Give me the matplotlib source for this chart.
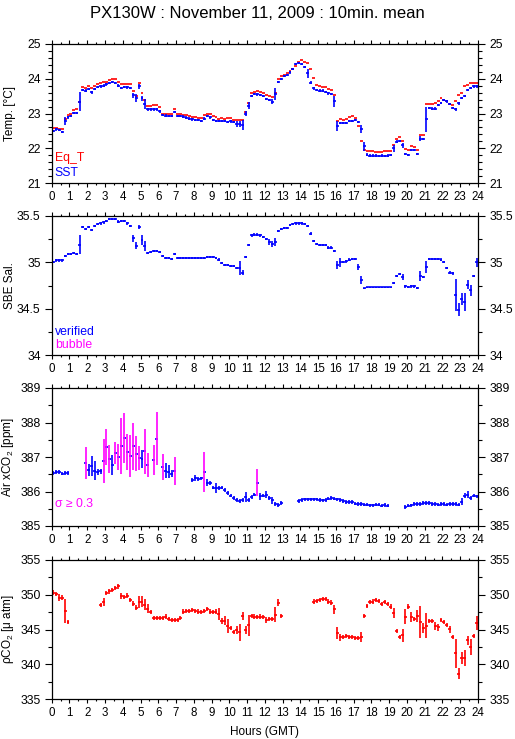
import numpy as np
import matplotlib
matplotlib.use("Agg")
import matplotlib.pyplot as plt
from matplotlib.ticker import MultipleLocator

plt.rcParams['font.family'] = ['Liberation Sans', 'DejaVu Sans']
plt.rcParams['mathtext.fontset'] = 'custom'
plt.rcParams['mathtext.rm'] = 'Liberation Sans'
plt.rcParams['mathtext.it'] = 'Liberation Sans:italic'

nan = np.nan
title = "PX130W : November 11, 2009 : 10min. mean"
hour_ticks = list(range(0, 25))

# ---- 10-minute means (index i covers hours i/6 .. (i+1)/6) ----
eq_t = [22.59, 22.57, 22.55, 22.54, 22.83, 22.95, 23.0, 23.1, 23.12, 23.34,
        23.75, 23.72, 23.78, 23.73, 23.8, 23.85, 23.87, 23.9, 23.92, 23.95,
        23.99, 23.99, 23.9, 23.85, 23.85, 23.85, 23.85, 23.65, 23.49, 23.87,
        23.58, 23.39, 23.22, 23.22, 23.24, 23.24, 23.18, 23.0, 23.0, 23.0,
        23.0, 23.12, 23.0, 23.0, 22.97, 22.97, 22.94, 22.91, 22.91, 22.87,
        22.87, 22.95, 23.0, 23.0, 22.93, 22.89, 22.85, 22.86, 22.85, 22.86,
        22.86, 22.81, 22.81, 22.81, 22.81, 23.05, 23.29, 23.58, 23.63, 23.66,
        23.62, 23.6, 23.53, 23.51, 23.47, 23.58, 23.99, 24.07, 24.11, 24.16,
        24.21, 24.28, 24.38, 24.48, 24.53, 24.49, 24.45, 24.28, 24.01, 23.81,
        23.78, 23.75, 23.75, 23.7, 23.68, 23.52, 22.78, 22.83, 22.81, 22.85,
        22.89, 22.92, 22.86, 22.65, 22.2, 21.94, 21.91, 21.91, 21.91, 21.9,
        21.88, 21.89, 21.91, 21.91, 21.91, 22.09, 22.28, 22.31, 22.22, 21.97,
        21.94, 22.06, 22.05, 21.94, 22.37, 22.37, 23.27, 23.26, 23.27, 23.31,
        23.37, 23.45, 23.39, 23.37, 23.27, 23.24, 23.37, 23.53, 23.58, 23.78,
        23.83, 23.87, 23.87, 23.87]

sst = [22.5, 22.54, 22.52, 22.46, 22.79, 22.89, 22.93, 23.02, 23.02, 23.34,
       23.68, 23.66, 23.7, 23.61, 23.7, 23.76, 23.78, 23.8, 23.84, 23.87,
       23.9, 23.87, 23.8, 23.73, 23.76, 23.75, 23.73, 23.52, 23.44, 23.78,
       23.44, 23.27, 23.12, 23.12, 23.12, 23.12, 23.06, 22.95, 22.94, 22.93,
       22.93, 23.04, 22.93, 22.92, 22.91, 22.88, 22.85, 22.83, 22.81, 22.81,
       22.79, 22.85, 22.93, 22.89, 22.81, 22.79, 22.79, 22.79, 22.79, 22.76,
       22.77, 22.75, 22.69, 22.69, 22.67, 22.99, 23.22, 23.51, 23.56, 23.55,
       23.53, 23.51, 23.42, 23.39, 23.34, 23.56, 23.9, 23.99, 24.08, 24.1,
       24.18, 24.28, 24.42, 24.45, 24.43, 24.33, 24.16, 23.89, 23.72, 23.68,
       23.66, 23.66, 23.62, 23.58, 23.56, 23.35, 22.64, 22.73, 22.72, 22.73,
       22.79, 22.79, 22.81, 22.75, 22.55, 22.06, 21.82, 21.79, 21.79, 21.79,
       21.77, 21.79, 21.77, 21.79, 21.81, 22.0, 22.19, 22.21, 22.08, 21.83,
       21.81, 21.95, 21.95, 21.83, 22.28, 22.27, 22.83, 23.16, 23.14, 23.14,
       23.24, 23.31, 23.39, 23.35, 23.27, 23.16, 23.12, 23.29, 23.45, 23.51,
       23.68, 23.74, 23.78, 23.78]
sst_sd_default = 0.035
sst_sd = {4: 0.11, 9: 0.27, 27: 0.08, 28: 0.11, 29: 0.08, 30: 0.07, 31: 0.14,
          62: 0.08, 63: 0.08, 64: 0.14, 65: 0.07, 66: 0.1, 74: 0.07, 75: 0.17,
          86: 0.13, 95: 0.15, 96: 0.15, 104: 0.12, 105: 0.13, 115: 0.1,
          118: 0.08, 124: 0.06, 126: 0.35}

sal = [35.0, 35.02, 35.02, 35.02, 35.07, 35.09, 35.09, 35.1, 35.09, 35.19,
       35.38, 35.36, 35.38, 35.35, 35.39, 35.41, 35.42, 35.43, 35.45, 35.47,
       35.47, 35.47, 35.44, 35.45, 35.45, 35.42, 35.39, 35.26, 35.18, 35.38,
       35.24, 35.18, 35.1, 35.11, 35.12, 35.12, 35.11, 35.07, 35.05, 35.05,
       35.04, 35.09, 35.05, 35.05, 35.05, 35.05, 35.05, 35.05, 35.05, 35.05,
       35.05, 35.05, 35.06, 35.06, 35.06, 35.05, 35.03, 34.99, 34.97, 34.97,
       34.96, 34.96, 34.94, 34.94, 34.89, 35.06, 35.19, 35.29, 35.3, 35.3,
       35.29, 35.27, 35.25, 35.22, 35.2, 35.22, 35.34, 35.36, 35.37, 35.37,
       35.4, 35.41, 35.42, 35.42, 35.42, 35.41, 35.39, 35.31, 35.23, 35.2,
       35.19, 35.19, 35.19, 35.16, 35.16, 35.12, 34.97, 35.0, 35.0, 35.01,
       35.03, 35.04, 35.04, 34.95, 34.81, 34.72, 34.73, 34.73, 34.73, 34.73,
       34.73, 34.73, 34.73, 34.73, 34.73, 34.78, 34.85, 34.87, 34.84, 34.74,
       34.73, 34.74, 34.74, 34.72, 34.85, 34.84, 34.95, 35.04, 35.04, 35.04,
       35.04, 35.03, 35.0, 34.94, 34.89, 34.88, 34.65, 34.49, 34.6, 34.57,
       34.76, 34.7, 34.85, 35.0]
sal_sd_default = 0.012
sal_sd = {9: 0.1, 27: 0.04, 28: 0.035, 29: 0.025, 30: 0.05, 31: 0.055,
          63: 0.075, 64: 0.03, 73: 0.03, 74: 0.035, 75: 0.045, 96: 0.04,
          97: 0.045, 103: 0.035, 104: 0.045, 105: 0.004, 106: 0.004,
          107: 0.004, 108: 0.004, 109: 0.004, 110: 0.004, 111: 0.004,
          112: 0.004, 113: 0.004, 114: 0.004, 118: 0.03, 124: 0.055,
          126: 0.06, 136: 0.17, 137: 0.07, 138: 0.065, 139: 0.095,
          140: 0.045, 141: 0.06, 143: 0.045}

xco2 = [386.54, 386.56, 386.57, 386.52, 386.54, 386.54, nan, nan, nan, nan,
        nan, 386.83, 386.63, 386.75, 386.6, 386.56, 386.58, 386.89, 387.29, 386.94,
        386.77, 387.12, 387.0, 387.32, 387.55, 387.15, 387.04, 387.31, 387.09, 386.97,
        386.94, 387.16, 386.77, nan, 386.92, 387.53, nan, 386.71, 386.6, 386.57,
        386.51, 386.6, nan, nan, nan, nan, nan, 386.34, 386.39, 386.37,
        386.38, 386.57, 386.25, 386.25, 386.11, 386.11, 386.1, 386.11, 386.05, 385.96,
        385.88, 385.81, 385.76, 385.73, 385.76, 385.84, 385.76, 385.84, 385.91, 386.25,
        385.86, 385.88, 385.91, 385.81, 385.74, 385.64, 385.61, 385.67, nan, nan,
        nan, nan, nan, 385.73, 385.76, 385.77, 385.77, 385.77, 385.77, 385.77,
        385.75, 385.74, 385.76, 385.79, 385.81, 385.79, 385.77, 385.76, 385.73, 385.69,
        385.69, 385.69, 385.65, 385.64, 385.64, 385.62, 385.62, 385.6, 385.6, 385.62,
        385.62, 385.59, 385.61, 385.59, nan, nan, nan, nan, nan, 385.55,
        385.59, 385.6, 385.64, 385.64, 385.64, 385.67, 385.67, 385.67, 385.64, 385.64,
        385.62, 385.64, 385.64, 385.62, 385.64, 385.64, 385.64, 385.62, 385.71, 385.88,
        385.91, 385.81, 385.88, 385.86]
xco2_sd_default = 0.05
xco2_sd = {11: 0.46, 12: 0.17, 13: 0.29, 14: 0.28, 15: 0.08, 16: 0.08,
           17: 0.63, 18: 0.53, 19: 0.41, 20: 0.28, 21: 0.32, 22: 0.38,
           23: 0.8, 24: 0.72, 25: 0.53, 26: 0.61, 27: 0.68, 28: 0.51,
           29: 0.34, 30: 0.27, 31: 0.66, 32: 0.35, 34: 0.43, 35: 0.77,
           37: 0.39, 38: 0.22, 39: 0.19, 40: 0.1, 41: 0.4, 47: 0.06,
           48: 0.1, 49: 0.06, 51: 0.58, 52: 0.1, 55: 0.14, 65: 0.14,
           69: 0.39, 70: 0.1, 72: 0.1, 74: 0.1, 138: 0.1, 139: 0.08, 140: 0.1}
sigma_limit = 0.3

pco2 = [350.3, 350.08, 349.6, 349.6, 347.67, 346.08, nan, nan, nan, nan,
        nan, nan, nan, nan, nan, nan, 348.5, 348.98, 350.23, 350.47,
        350.71, 350.95, 351.19, 349.84, 349.65, 349.89, 349.27, 348.73, 348.16, 348.98,
        348.98, 348.54, 348.01, 347.53, 346.61, 346.61, 346.61, 346.61, 346.86, 346.47,
        346.37, 346.37, 346.37, 346.61, 347.58, 347.67, 347.72, 347.82, 347.72, 347.58,
        347.48, 347.67, 347.96, 347.58, 347.48, 347.58, 347.24, 346.23, 346.23, 345.55,
        345.17, 344.69, 344.93, 344.59, 346.95, 344.93, 345.6, 346.95, 346.86, 346.76,
        346.86, 346.76, 346.37, 346.47, 346.47, 347.14, 348.88, 346.95, nan, nan,
        nan, nan, nan, nan, nan, nan, nan, nan, 349.02, 349.12,
        349.27, 349.41, 349.41, 349.02, 348.88, 347.92, 344.45, 343.87, 343.96, 344.06,
        343.96, 343.87, 343.72, 343.72, 343.87, 346.95, 348.4, 348.98, 349.02, 349.27,
        349.12, 348.69, 348.93, 348.64, 348.3, 347.34, 344.83, 343.96, 344.16, 346.86,
        348.3, 346.76, 346.52, 346.95, 346.04, 345.17, 345.51, 346.23, 346.23, 345.51,
        345.31, 346.37, 346.13, 345.65, 345.02, 343.96, 341.55, 338.66, 340.93, 340.93,
        343.48, 342.52, 344.06, 345.89]
pco2_sd_default = 0.3
pco2_sd = {0: 0.35, 2: 0.5, 4: 1.69, 17: 0.55, 23: 0.45, 29: 0.9, 30: 0.8,
           31: 0.8, 32: 0.7, 56: 0.85, 57: 0.4, 58: 0.65, 59: 1.0, 62: 0.55,
           63: 1.2, 64: 0.6, 65: 0.55, 66: 1.5, 72: 0.5, 75: 1.1, 76: 0.5,
           95: 0.65, 96: 0.85, 97: 0.5, 104: 0.7, 105: 0.35, 115: 0.7,
           118: 0.95, 119: 1.1, 121: 0.75, 123: 0.8, 124: 2.3, 125: 0.7,
           126: 1.8, 129: 0.55, 130: 0.55, 134: 0.55, 136: 2.05, 137: 0.85,
           138: 0.9, 139: 1.15, 140: 0.65, 141: 1.15, 143: 1.0}

RED, BLUE, MAG = '#ff0000', '#0000ff', '#ff00ff'
STEP = 1.0 / 6.0
LW = 1.2


def sd_array(n, default, overrides):
    a = np.full(n, default)
    for k, v in overrides.items():
        a[k] = v
    return a


def draw(ax, vals, color, sd=None, bar_colors=None):
    v = np.asarray(vals, dtype=float)
    n = len(v)
    t0 = np.arange(n) * STEP
    ok = ~np.isnan(v)
    ax.hlines(v[ok], t0[ok], t0[ok] + STEP, colors=color, lw=LW)
    if sd is not None:
        tc = t0 + STEP / 2
        cols = bar_colors if bar_colors is not None else [color] * n
        cols = np.asarray(cols, dtype=object)
        ax.vlines(tc[ok], v[ok] - sd[ok], v[ok] + sd[ok],
                  colors=list(cols[ok]), lw=LW)


fig = plt.figure(figsize=(5.15, 7.39), dpi=100)
W, H = 515.0, 739.0
left, right = 51.7, 478.0
panels = [(44, 183), (216, 355), (388, 526), (560, 699)]
axes = []
for top, bot in panels:
    ax = fig.add_axes([left / W, 1 - bot / H, (right - left) / W, (bot - top) / H])
    axes.append(ax)

ylims = [(21, 25), (34, 35.5), (385, 389), (335, 355)]
majors = [1, 0.5, 1, 5]
minors = [0.2, 0.25, 0.5, 2.5]
ylabels = ['Temp. [°C]', 'SBE Sal.', 'Air xCO$_2$ [ppm]', 'ρCO$_2$ [μ atm]']

for ax, yl, mj, mn, lab in zip(axes, ylims, majors, minors, ylabels):
    ax.set_xlim(0, 24)
    ax.set_ylim(*yl)
    ax.set_xticks(hour_ticks)
    ax.xaxis.set_minor_locator(MultipleLocator(0.5))
    ax.yaxis.set_major_locator(MultipleLocator(mj))
    ax.yaxis.set_minor_locator(MultipleLocator(mn))
    ax.yaxis.set_major_formatter(matplotlib.ticker.FuncFormatter(lambda v, p: '%g' % v))
    ax.tick_params(axis='x', which='major', direction='out', length=3.0, width=0.8,
                   top=True, bottom=True, labelsize=8.3, pad=3)
    ax.tick_params(axis='x', which='minor', direction='out', length=1.6, width=0.8,
                   top=True, bottom=True)
    ax.tick_params(axis='y', which='major', direction='out', length=5.0, width=0.8,
                   left=True, right=True, labelleft=True, labelright=True,
                   labelsize=8.7, pad=3)
    ax.tick_params(axis='y', which='minor', direction='out', length=2.6, width=0.8,
                   left=True, right=True)
    for s in ax.spines.values():
        s.set_linewidth(0.9)
    ax.set_ylabel(lab, fontsize=8.5)
    ax.yaxis.set_label_coords(-0.083, 0.5)

# Panel 1: temperatures
ax = axes[0]
draw(ax, eq_t, RED)
draw(ax, sst, BLUE, sd_array(144, sst_sd_default, sst_sd))
ax.text(0.007, 0.18, 'Eq_T', color=RED, transform=ax.transAxes, fontsize=8.8, va='center')
ax.text(0.007, 0.072, 'SST', color=BLUE, transform=ax.transAxes, fontsize=8.8, va='center')

# Panel 2: salinity
ax = axes[1]
draw(ax, sal, BLUE, sd_array(144, sal_sd_default, sal_sd))
ax.text(0.007, 0.165, 'verified', color=BLUE, transform=ax.transAxes, fontsize=8.8, va='center')
ax.text(0.007, 0.072, 'bubble', color=MAG, transform=ax.transAxes, fontsize=8.8, va='center')

# Panel 3: air xCO2
ax = axes[2]
xsd = sd_array(144, xco2_sd_default, xco2_sd)
bcol = [MAG if s >= sigma_limit else BLUE for s in xsd]
draw(ax, xco2, BLUE, xsd, bcol)
ax.text(0.007, 0.16, 'σ ≥ 0.3', color=MAG, transform=ax.transAxes, fontsize=8.8, va='center')

# Panel 4: pCO2
ax = axes[3]
draw(ax, pco2, RED, sd_array(144, pco2_sd_default, pco2_sd))
ax.set_xlabel('Hours (GMT)', fontsize=8.5, labelpad=5)

fig.text(0.5, 1 - 14 / H, title, ha='center', va='center', fontsize=12)

fig.savefig('out.png', dpi=100)
